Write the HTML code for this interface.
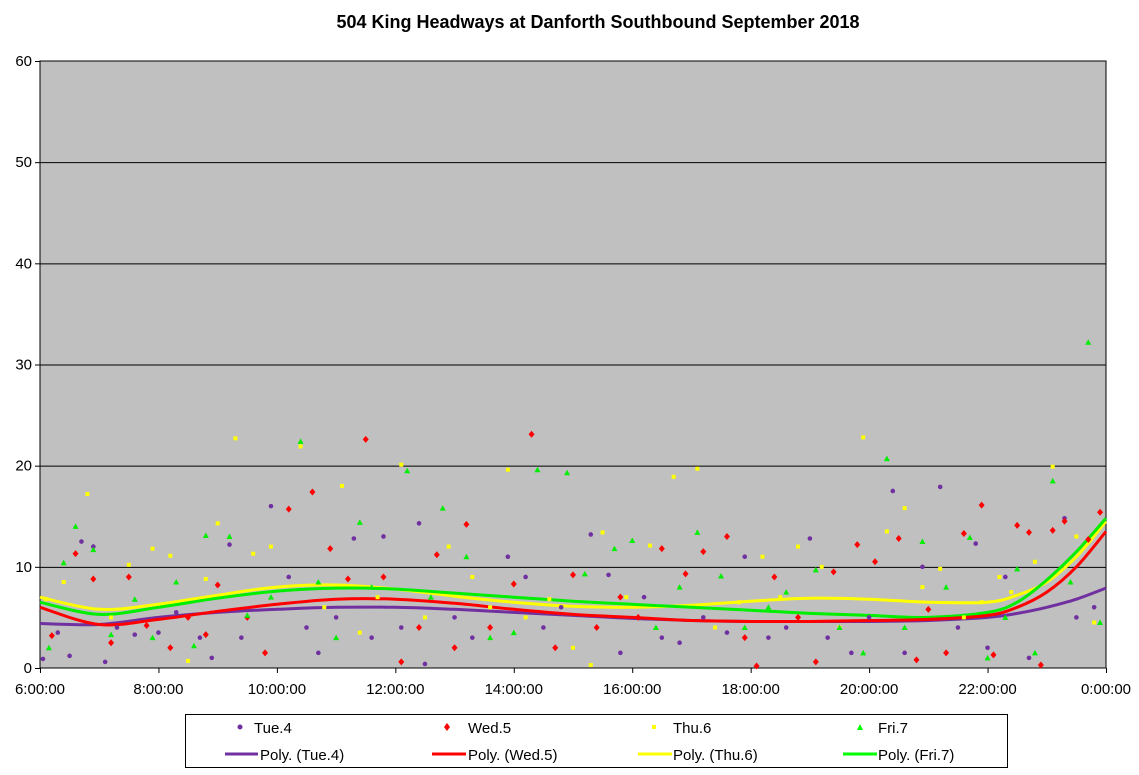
<!DOCTYPE html>
<html><head><meta charset="utf-8"><style>
html,body{margin:0;padding:0;background:#fff;width:1139px;height:775px;overflow:hidden;font-family:"Liberation Sans",Arial,sans-serif}
</style></head><body>
<svg id="chart" width="1139" height="775" xmlns="http://www.w3.org/2000/svg" font-family="Liberation Sans, Arial, sans-serif">
<text x="598" y="28" text-anchor="middle" font-size="18" font-weight="bold">504 King Headways at Danforth Southbound September 2018</text>
<rect x="40" y="61" width="1066" height="607" fill="#C0C0C0" stroke="#000" stroke-width="1"/>
<g id="grid"></g><g id="axes"></g><g id="trends"></g><g id="points"></g>
<g>
<rect x="185.5" y="714.5" width="822" height="53" fill="#fff" stroke="#000"/>
<circle cx="240" cy="727" r="2.5" fill="#7030A0"/><text x="254" y="733" font-size="15">Tue.4</text>
<path d="M447,723 L450,727 L447,731 L444,727Z" fill="#f00"/><text x="468" y="733" font-size="15">Wed.5</text>
<rect x="652" y="725" width="4" height="4" fill="#ff0"/><text x="673" y="733" font-size="15">Thu.6</text>
<path d="M860,724 L863,730 L857,730Z" fill="#0f0"/><text x="878" y="733" font-size="15">Fri.7</text>
<line x1="225" y1="754" x2="258" y2="754" stroke="#7030A0" stroke-width="3"/><text x="260" y="760" font-size="15">Poly. (Tue.4)</text>
<line x1="432" y1="754" x2="466" y2="754" stroke="#f00" stroke-width="3"/><text x="468" y="760" font-size="15">Poly. (Wed.5)</text>
<line x1="638" y1="754" x2="672" y2="754" stroke="#ff0" stroke-width="3"/><text x="673" y="760" font-size="15">Poly. (Thu.6)</text>
<line x1="843" y1="754" x2="877" y2="754" stroke="#0f0" stroke-width="3"/><text x="878" y="760" font-size="15">Poly. (Fri.7)</text>
</g>
</svg>
<script>
const yTicks=[0,10,20,30,40,50,60];
const xTickHours=[6,8,10,12,14,16,18,20,22,24];
const xTickLabels=["6:00:00","8:00:00","10:00:00","12:00:00","14:00:00","16:00:00","18:00:00","20:00:00","22:00:00","0:00:00"];
const tuePts=[[6.05,0.9],[6.3,3.5],[6.5,1.2],[6.7,12.5],[6.9,12],[7.1,0.6],[7.3,4],[7.6,3.3],[8,3.5],[8.3,5.5],[8.7,3],[8.9,1],[9.2,12.2],[9.4,3],[9.9,16],[10.2,9],[10.5,4],[10.7,1.5],[11,5],[11.3,12.8],[11.6,3],[11.8,13],[12.1,4],[12.4,14.3],[12.5,0.4],[13,5],[13.3,3],[13.9,11],[14.2,9],[14.5,4],[14.8,6],[15.3,13.2],[15.6,9.2],[15.8,1.5],[16.2,7],[16.5,3],[16.8,2.5],[17.2,5],[17.6,3.5],[17.9,11],[18.3,3],[18.6,4],[19,12.8],[19.3,3],[19.7,1.5],[20,5],[20.4,17.5],[20.6,1.5],[20.9,10],[21.2,17.9],[21.5,4],[21.8,12.3],[22,2],[22.3,9],[22.7,1],[23.3,14.8],[23.5,5],[23.8,6]];
const wedPts=[[6.2,3.2],[6.6,11.3],[6.9,8.8],[7.2,2.5],[7.5,9],[7.8,4.2],[8.2,2],[8.5,5],[8.8,3.3],[9,8.2],[9.5,5],[9.8,1.5],[10.2,15.7],[10.6,17.4],[10.9,11.8],[11.2,8.8],[11.5,22.6],[11.8,9],[12.1,0.6],[12.4,4],[12.7,11.2],[13,2],[13.2,14.2],[13.6,4],[14,8.3],[14.3,23.1],[14.7,2],[15,9.2],[15.4,4],[15.8,7],[16.1,5],[16.5,11.8],[16.9,9.3],[17.2,11.5],[17.6,13],[17.9,3],[18.1,0.2],[18.4,9],[18.8,5],[19.1,0.6],[19.4,9.5],[19.8,12.2],[20.1,10.5],[20.5,12.8],[20.8,0.8],[21,5.8],[21.3,1.5],[21.6,13.3],[21.9,16.1],[22.1,1.3],[22.5,14.1],[22.7,13.4],[22.9,0.3],[23.1,13.6],[23.3,14.5],[23.7,12.7],[23.9,15.4]];
const thuPts=[[6.1,6.8],[6.4,8.5],[6.8,17.2],[7.2,5],[7.5,10.2],[7.9,11.8],[8.2,11.1],[8.5,0.7],[8.8,8.8],[9,14.3],[9.3,22.7],[9.6,11.3],[9.9,12],[10.4,21.9],[10.8,6],[11.1,18],[11.4,3.5],[11.7,7],[12.1,20.1],[12.5,5],[12.9,12],[13.3,9],[13.6,6],[13.9,19.6],[14.2,5],[14.6,6.8],[15,2],[15.3,0.3],[15.5,13.4],[15.9,7],[16.3,12.1],[16.7,18.9],[17.1,19.7],[17.4,4],[17.8,6.5],[18.2,11],[18.5,7],[18.8,12],[19.2,10],[19.5,4],[19.9,22.8],[20.3,13.5],[20.6,15.8],[20.9,8],[21.2,9.8],[21.6,5],[21.9,6.5],[22.2,9],[22.4,7.5],[22.8,10.5],[23.1,19.9],[23.5,13],[23.8,4.5]];
const friPts=[[6.15,2],[6.4,10.4],[6.6,14],[6.9,11.7],[7.2,3.3],[7.6,6.8],[7.9,3],[8.3,8.5],[8.6,2.2],[8.8,13.1],[9.2,13],[9.5,5.2],[9.9,7],[10.4,22.4],[10.7,8.5],[11,3],[11.4,14.4],[11.6,8],[12.2,19.5],[12.6,7],[12.8,15.8],[13.2,11],[13.6,3],[14,3.5],[14.4,19.6],[14.9,19.3],[15.2,9.3],[15.7,11.8],[16,12.6],[16.4,4],[16.8,8],[17.1,13.4],[17.5,9.1],[17.9,4],[18.3,6],[18.6,7.5],[19.1,9.7],[19.5,4],[19.9,1.5],[20.3,20.7],[20.6,4],[20.9,12.5],[21.3,8],[21.7,12.9],[22,1],[22.3,5],[22.5,9.8],[22.8,1.5],[23.1,18.5],[23.4,8.5],[23.7,32.2],[23.9,4.5]];
const trendHours=[6,7,8,9,10,11,12,13,14,15,16,17,18,19,20,21,22,22.5,23,23.5,24];
const tueTrend=[4.4,4.3,5,5.5,5.8,6,6,5.8,5.5,5.2,4.9,4.7,4.6,4.6,4.6,4.7,5,5.4,6,6.8,7.9];
const wedTrend=[6,4.3,4.8,5.6,6.3,6.8,6.8,6.4,5.8,5.3,5,4.7,4.6,4.6,4.7,4.8,5.2,6,7.5,10,13.5];
const thuTrend=[7,5.8,6.3,7.2,8,8.2,7.8,7.1,6.5,6.1,6,6.2,6.6,6.9,6.8,6.5,6.5,7.2,8.5,11,14.5];
const friTrend=[6.5,5.3,6,6.9,7.6,7.9,7.8,7.4,7,6.6,6.3,6,5.7,5.4,5.2,5,5.5,6.5,8.7,11.5,14.8];
const NS="http://www.w3.org/2000/svg";
const X0=40,X1=1106,Y0=668,Y1=61;
function xs(h){return X0+(h-6)/18*(X1-X0);}
function ys(v){return Y0-v/60*(Y0-Y1);}
function mk(tag,attrs,parent){const e=document.createElementNS(NS,tag);for(const k in attrs)e.setAttribute(k,attrs[k]);parent.appendChild(e);return e;}
const grid=document.getElementById('grid'),axes=document.getElementById('axes'),trends=document.getElementById('trends'),pts=document.getElementById('points');
yTicks.forEach(v=>{
  if(v>0&&v<60){const l=mk('line',{x1:X0,x2:X1,y1:ys(v)+0.5,y2:ys(v)+0.5,stroke:'#000','stroke-width':1},grid);
  
  }
  mk('line',{x1:X0-5,x2:X0,y1:ys(v)+0.5,y2:ys(v)+0.5,stroke:'#000'},axes);
  const t=mk('text',{x:X0-8,y:ys(v)+5,'text-anchor':'end','font-size':15},axes);t.textContent=v;
  
  
});
xTickHours.forEach((h,i)=>{
  mk('line',{x1:xs(h)+0.5,x2:xs(h)+0.5,y1:Y0,y2:Y0+5,stroke:'#000'},axes);
  const t=mk('text',{x:xs(h),y:Y0+26,'text-anchor':'middle','font-size':15},axes);t.textContent=xTickLabels[i];
  
  
});
function trend(hrs,vals,color,name){
  const P=hrs.map((h,i)=>[xs(h),ys(vals[i])]);
  let d='M'+P[0][0].toFixed(1)+','+P[0][1].toFixed(1);
  for(let i=0;i<P.length-1;i++){
    const p0=P[Math.max(0,i-1)],p1=P[i],p2=P[i+1],p3=P[Math.min(P.length-1,i+2)];
    const c1=[p1[0]+(p2[0]-p0[0])/6,p1[1]+(p2[1]-p0[1])/6];
    const c2=[p2[0]-(p3[0]-p1[0])/6,p2[1]-(p3[1]-p1[1])/6];
    d+=` C${c1[0].toFixed(1)},${c1[1].toFixed(1)} ${c2[0].toFixed(1)},${c2[1].toFixed(1)} ${p2[0].toFixed(1)},${p2[1].toFixed(1)}`;
  }
  const p=mk('path',{d:d,fill:'none',stroke:color,'stroke-width':3,'stroke-linejoin':'round'},trends);
  
  
}
trend(trendHours,tueTrend,'#7030A0','trend-tue');
trend(trendHours,thuTrend,'#ffff00','trend-thu');
trend(trendHours,friTrend,'#00ee00','trend-fri');
trend(trendHours,wedTrend,'#ff0000','trend-wed');
function scatter(arr,shape,color,name){
  arr.forEach(p=>{
    const x=xs(p[0]),y=ys(p[1]);let e;
    if(shape==='c')e=mk('circle',{cx:x,cy:y,r:2.3,fill:color},pts);
    else if(shape==='d')e=mk('path',{d:`M${x},${y-3.5} L${x+3},${y} L${x},${y+3.5} L${x-3},${y}Z`,fill:color},pts);
    else if(shape==='s')e=mk('rect',{x:x-2,y:y-2,width:4,height:4,fill:color},pts);
    else e=mk('path',{d:`M${x},${y-3} L${x+3},${y+2.5} L${x-3},${y+2.5}Z`,fill:color},pts);
    
    
  });
}
scatter(tuePts,'c','#7030A0','tue-point');
scatter(wedPts,'d','#ff0000','wed-point');
scatter(thuPts,'s','#ffff00','thu-point');
scatter(friPts,'t','#00ee00','fri-point');
</script>
</body></html>
